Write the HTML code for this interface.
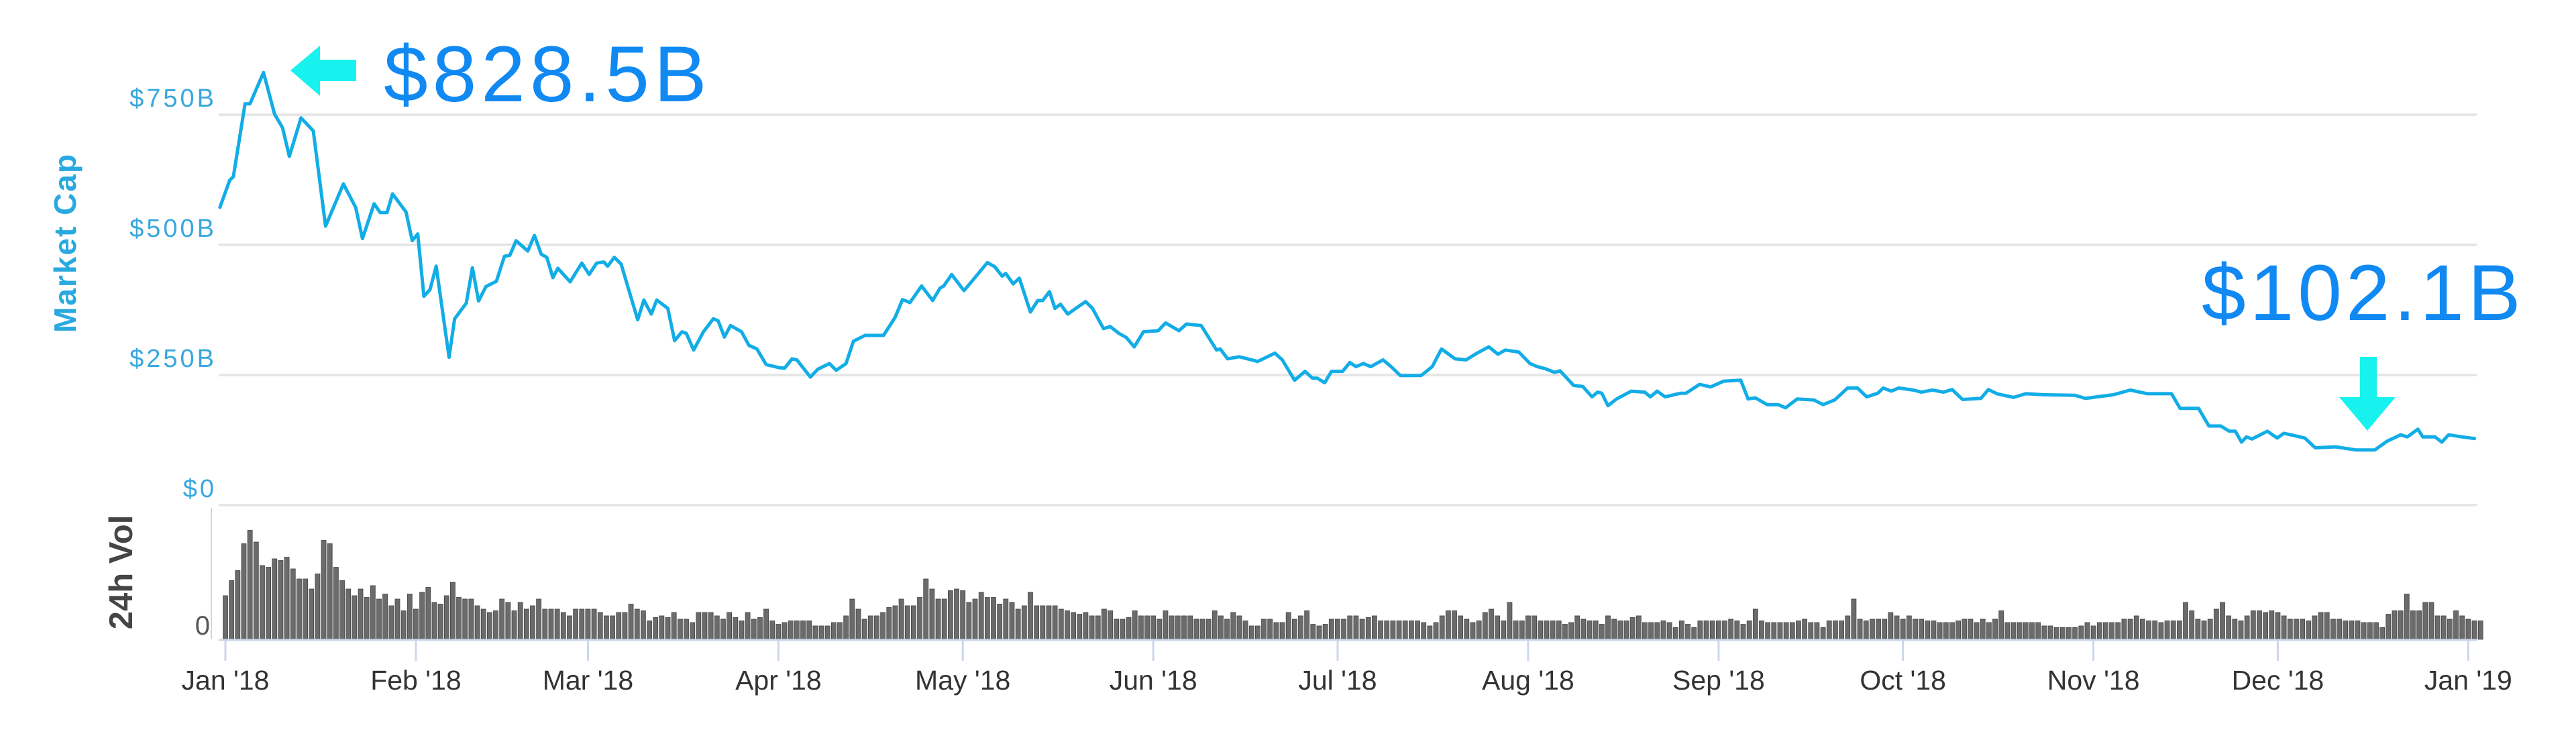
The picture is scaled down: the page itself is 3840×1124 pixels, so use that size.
<!DOCTYPE html>
<html>
<head>
<meta charset="utf-8">
<style>
html,body{margin:0;padding:0;background:#fff;}
svg{display:block;}
text{font-family:"Liberation Sans","DejaVu Sans",sans-serif;}
</style>
</head>
<body>
<svg id="chart" width="3840" height="1124" viewBox="0 0 3840 1124" xmlns="http://www.w3.org/2000/svg">
  <g id="grid"></g>
  <g id="yaxis"></g>
  <text x="0" y="0" transform="translate(113,362) rotate(-90)" text-anchor="middle" font-size="46" font-weight="bold" fill="#29a9e0" letter-spacing="2">Market Cap</text>
  <text x="0" y="0" transform="translate(197,853) rotate(-90)" text-anchor="middle" font-size="49" font-weight="bold" fill="#454545">24h Vol</text>
  <line x1="315" y1="757" x2="315" y2="953" stroke="#ccd6eb" stroke-width="2"/>
  <g id="bars"></g>
  <line x1="326" y1="954" x2="3692" y2="954" stroke="#ccd6eb" stroke-width="3"/>
  <g id="xaxis"></g>
  <path id="line" fill="none" stroke="#12ade6" stroke-width="5" stroke-linejoin="round" stroke-linecap="round"/>
  <polygon points="433,105 477,68 477,89 531,89 531,121 477,121 477,143" fill="#18f2ef"/>
  <text x="572" y="151" font-size="118" fill="#1189f3" letter-spacing="7">$828.5B</text>
  <polygon points="3518,532 3543,532 3543,592 3571,592 3529,642 3487,592 3518,592" fill="#18f2ef"/>
  <text x="3282" y="477" font-size="118" fill="#1189f3" letter-spacing="6">$102.1B</text>
</svg>
<script>
const yTickValues = [0, 250, 500, 750];
const yTickLabels = ["$0", "$250B", "$500B", "$750B"];
const monthDays = [0, 31, 59, 90, 120, 151, 181, 212, 243, 273, 304, 334, 365];
const monthLabels = ["Jan '18","Feb '18","Mar '18","Apr '18","May '18","Jun '18","Jul '18","Aug '18","Sep '18","Oct '18","Nov '18","Dec '18","Jan '19"];
const days = [-0.9,0.7,1.3,3.2,4,6.2,8,9.3,10.4,12.3,14.3,16.3,19.2,21.2,22.3,24.2,25.2,26.3,27.2,29.4,30.4,31.3,32.3,33.3,34.3,36.4,37.3,39.2,40.2,41.2,42.4,44.1,45.4,46.3,47.3,49.2,50.3,51.4,52.3,53.3,54.1,56.1,58,59.2,60.4,61.6,62.2,63.3,64.4,67.1,68.1,69.3,70.2,72,73.1,74.3,75,76.2,77.8,79.4,80.2,81.2,82.2,84,85.2,86.5,88,90.1,91,92.2,93,95.2,96.4,98.3,99.4,101,102.2,104.1,107.1,109,110.2,111.4,113.3,115.1,116.3,116.9,118.2,120.2,122.4,124,125.2,126.4,127,128.2,129.2,131,132.2,133,134.1,135,135.9,137.1,138.4,140,141.1,142.9,144,145.4,146.6,147.9,149.4,151.8,153,155.2,156.4,158.8,161.3,161.9,163.1,165,168,169.6,170.8,172,174,175.7,176.9,177.7,178.9,180,181.8,183,184,185.2,186.4,188.4,189.7,191.2,194.6,196.4,197.9,200.1,201.9,203.7,205.6,207.1,208.3,210.5,212.3,213.5,214.8,216.3,217.2,219.4,220.9,222.4,223.3,224,225,226.4,228.8,231,231.9,233,234.3,236.8,237.7,239.9,241.7,243.8,246.6,247.8,249,250.9,252.7,253.9,255.8,258.5,260,261.9,264,265.6,267.1,268.9,269.8,271.1,272.3,274.7,276,277.8,279.6,281,282.7,285.7,286.9,288.3,291,293,296,301,302.7,307.2,310,312.8,316.7,318.1,320,321.1,322.8,324.7,326.1,327.1,328.1,328.9,329.8,332.3,333.9,335,338.4,340.1,343.4,346.7,349.8,351.8,354,355.1,356.8,357.6,359.6,360.7,361.8,364,366];
const marketCap = [572,624,631,771,771,831,751,725,670,744,719,536,617,572,512,579,562,562,598,563,508,521,401,414,459,284,358,388,456,392,420,430,478,480,508,488,518,482,476,437,455,429,465,443,465,467,459,476,463,356,394,367,394,378,316,333,330,298,333,358,354,323,345,333,307,300,270,264,263,281,279,246,261,272,259,272,315,326,326,361,395,389,421,393,417,421,443,412,443,466,458,440,445,425,436,371,393,393,410,378,386,367,378,391,378,339,343,330,322,304,333,335,350,335,348,345,298,300,281,285,276,285,292,279,240,257,244,244,235,257,257,274,266,272,266,279,266,249,249,266,300,281,279,292,304,290,298,294,272,266,262,255,258,230,228,208,217,215,191,204,219,217,208,219,208,215,215,232,227,238,240,204,206,193,193,187,204,202,193,202,225,225,208,215,225,219,225,221,217,221,217,222,203,205,222,214,207,214,212,211,205,212,221,214,214,186,186,186,152,152,142,142,121,131,127,142,129,138,129,110,112,106,106,123,135,131,146,131,131,121,135,131,128];
const volume = [26,35,41,57,65,58,44,43,48,47,49,42,36,36,30,39,59,57,43,35,30,26,30,25,32,24,27,20,24,17,27,18,28,31,22,21,26,34,25,24,24,20,18,16,17,24,22,17,22,18,20,24,18,18,18,16,14,18,18,18,18,16,14,14,16,16,21,18,17,11,13,14,13,16,12,12,10,16,16,16,14,12,16,13,11,16,12,13,18,11,9,10,11,11,11,11,8,8,8,10,10,14,24,18,12,14,14,16,19,20,24,20,20,25,36,30,24,24,29,30,29,22,24,28,25,25,21,24,22,18,20,28,20,20,20,20,18,17,16,15,16,14,14,18,17,12,12,13,17,14,14,14,12,17,14,14,14,14,12,12,12,17,14,12,16,14,11,8,8,12,12,10,10,16,12,14,17,9,8,9,12,12,12,14,
14,12,13,14,11,11,11,11,11,11,11,10,8,10,14,17,17,14,12,10,11,16,18,14,11,22,11,11,14,14,11,11,11,11,9,10,14,12,11,11,9,14,12,11,11,13,14,10,10,10,11,10,7,11,9,7,11,11,11,11,11,12,11,9,11,18,11,10,10,10,10,10,11,12,10,10,7,11,11,11,14,24,12,11,12,12,12,16,14,12,14,12,12,11,11,10,10,10,11,12,12,10,12,10,12,17,10,10,10,10,10,10,8,8,7,7,7,7,8,10,8,10,10,10,10,12,12,14,12,11,11,10,11,11,11,22,17,12,11,12,18,22,14,12,11,14,17,17,16,17,16,14,12,12,12,11,14,16,16,12,12,11,11,11,10,10,10,7,15,17,17,27,17,17,22,22,14,14,12,17,14,12,11,11];

const SVGNS = "http://www.w3.org/2000/svg";
function xScale(d){ return 336 + d * 9.16; }
function yScale(v){ return 753 - v * 0.776; }
function yVol(v){ return 953 - v * 2.5; }

const grid = document.getElementById('grid');
const yaxis = document.getElementById('yaxis');
yTickValues.forEach((v, i) => {
  const ln = document.createElementNS(SVGNS, 'line');
  
  
  ln.setAttribute('x1', 326); ln.setAttribute('x2', 3692);
  ln.setAttribute('y1', yScale(v)); ln.setAttribute('y2', yScale(v));
  ln.setAttribute('stroke', '#e6e6e6'); ln.setAttribute('stroke-width', 4);
  grid.appendChild(ln);
  const t = document.createElementNS(SVGNS, 'text');
  
  
  t.setAttribute('x', 323); t.setAttribute('y', yScale(v) - 12);
  t.setAttribute('text-anchor', 'end'); t.setAttribute('font-size', '38');
  t.setAttribute('letter-spacing', '4');
  t.setAttribute('fill', '#38a7de');
  t.textContent = yTickLabels[i];
  yaxis.appendChild(t);
});
const zt = document.createElementNS(SVGNS, 'text');


zt.setAttribute('x', 313); zt.setAttribute('y', 946);
zt.setAttribute('text-anchor', 'end'); zt.setAttribute('font-size', '40');
zt.setAttribute('fill', '#555');
zt.textContent = '0';
yaxis.appendChild(zt);

const bars = document.getElementById('bars');
volume.forEach((v, i) => {
  const r = document.createElementNS(SVGNS, 'rect');
  
  
  r.setAttribute('x', xScale(i) - 3.5);
  r.setAttribute('width', 7);
  r.setAttribute('y', yVol(v));
  r.setAttribute('height', 953 - yVol(v));
  r.setAttribute('fill', '#6b6b6b');
  r.setAttribute('stroke', '#444');
  r.setAttribute('stroke-width', '0.8');
  bars.appendChild(r);
});

const xaxis = document.getElementById('xaxis');
monthDays.forEach((d, i) => {
  const tk = document.createElementNS(SVGNS, 'line');
  
  
  tk.setAttribute('x1', xScale(d)); tk.setAttribute('x2', xScale(d));
  tk.setAttribute('y1', 953); tk.setAttribute('y2', 985);
  tk.setAttribute('stroke', '#ccd6eb'); tk.setAttribute('stroke-width', 3);
  xaxis.appendChild(tk);
  const t = document.createElementNS(SVGNS, 'text');
  
  
  t.setAttribute('x', xScale(d)); t.setAttribute('y', 1028);
  t.setAttribute('text-anchor', 'middle'); t.setAttribute('font-size', '41');
  t.setAttribute('fill', '#333');
  t.textContent = monthLabels[i];
  xaxis.appendChild(t);
});

const path = days.map((d, i) => (i ? 'L' : 'M') + xScale(d).toFixed(1) + ',' + yScale(marketCap[i]).toFixed(1)).join(' ');
document.getElementById('line').setAttribute('d', path);
</script>
</body>
</html>
